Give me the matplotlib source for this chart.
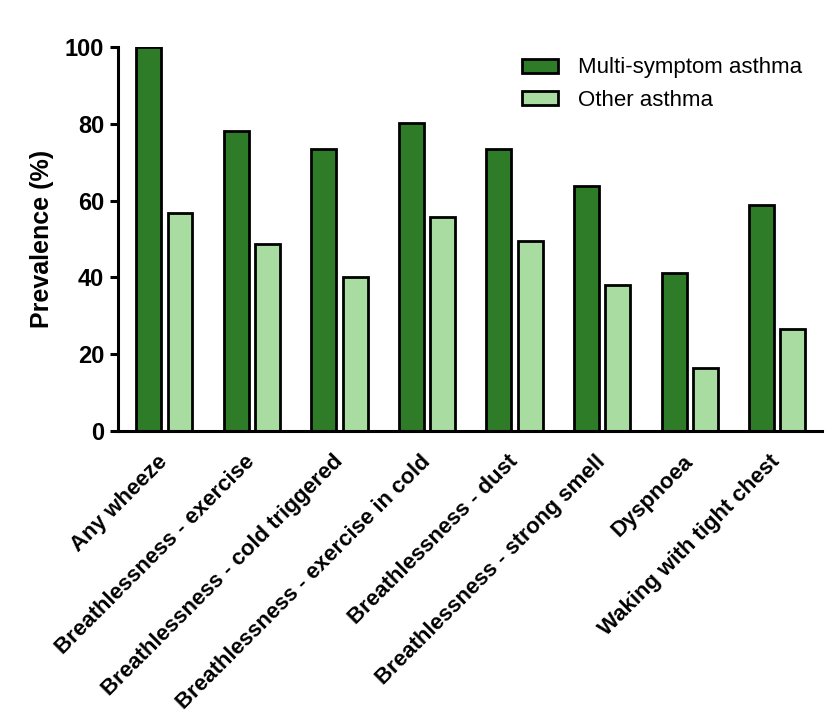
import numpy as np
import matplotlib
matplotlib.use("Agg")
import matplotlib.pyplot as plt

plt.rcParams['font.family'] = ['Liberation Sans', 'DejaVu Sans']

# --- DATA ---
categories = ["Any wheeze", "Breathlessness - exercise", "Breathlessness - cold triggered",
              "Breathlessness - exercise in cold", "Breathlessness - dust",
              "Breathlessness - strong smell", "Dyspnoea", "Waking with tight chest"]
multi_symptom = [100, 78.1, 73.4, 80.2, 73.4, 63.8, 41.1, 58.9]
other_asthma = [56.8, 48.7, 40.1, 55.7, 49.5, 38.0, 16.4, 26.6]
series_names = ["Multi-symptom asthma", "Other asthma"]
yticks = [0, 20, 40, 60, 80, 100]

dark_green = '#2e7b28'
light_green = '#a9dca0'

fig = plt.figure(figsize=(8.26, 7.23), dpi=100)
ax = fig.add_axes([0.1429, 0.404, 0.852, 0.531])

x = np.arange(len(categories))
w = 0.285
off = 0.178
ax.bar(x - off, multi_symptom, w, color=dark_green, edgecolor='black', linewidth=2,
       label=series_names[0])
ax.bar(x + off, other_asthma, w, color=light_green, edgecolor='black', linewidth=2,
       label=series_names[1])

ax.set_xlim(-0.53, 7.51)
ax.set_ylim(0, 100)
ax.set_yticks(yticks)
ax.set_yticklabels([str(t) for t in yticks], fontsize=17, fontweight='bold')
ax.set_xticks(x)
ax.set_xticklabels(categories, rotation=45, ha='right', va='center', rotation_mode='anchor',
                   fontsize=16, fontweight='bold')
ax.tick_params(axis='x', length=0, pad=20)
ax.tick_params(axis='y', length=6, width=2.2, pad=4)
ax.set_ylabel("Prevalence (%)", fontsize=18, fontweight='bold', labelpad=8)

for s in ['top', 'right']:
    ax.spines[s].set_visible(False)
for s in ['left', 'bottom']:
    ax.spines[s].set_linewidth(2.2)

leg = ax.legend(loc='upper right', bbox_to_anchor=(1.0, 1.025), frameon=False,
                fontsize=16, handlelength=1.6, handleheight=0.6, labelspacing=0.5,
                handletextpad=0.9)

fig.savefig("out.png", dpi=100)
